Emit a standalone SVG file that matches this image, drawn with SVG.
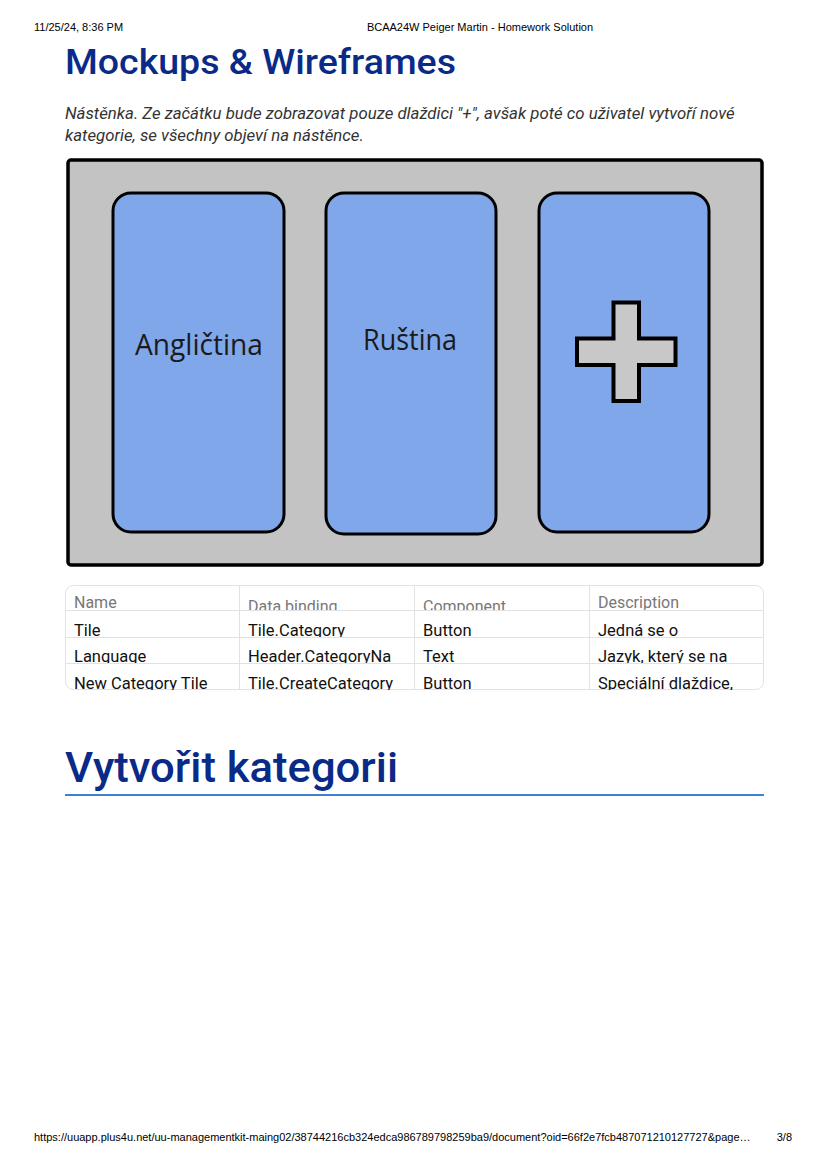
<svg xmlns="http://www.w3.org/2000/svg" width="826" height="1169" viewBox="0 0 826 1169">
<style>
.hdr{font-family:"Liberation Sans",Arial,sans-serif;font-size:11px;fill:#000}
.h1{font-family:Roboto,"Liberation Sans",sans-serif;font-weight:500;fill:#0a2a88}
.para{font-family:Roboto,"Liberation Sans",sans-serif;font-style:italic;font-size:16.8px;fill:#333}
.tile{fill:#80a7e9;stroke:#000;stroke-width:3}
.tl{font-family:"Open Sans","Noto Sans",sans-serif;font-size:29px;fill:#1a1a1a}
.th{font-family:Roboto,"Liberation Sans",sans-serif;font-size:16px;fill:#777}
.td{font-family:Roboto,"Liberation Sans",sans-serif;font-size:16.5px;fill:#111}
.grid{stroke:#e2e2e2;stroke-width:1;fill:none}
</style>
<defs>
<clipPath id="r0c0"><rect x="65" y="585" width="166" height="25"/></clipPath>
<clipPath id="r0c1"><rect x="240" y="585" width="166" height="25"/></clipPath>
<clipPath id="r0c2"><rect x="415" y="585" width="166" height="25"/></clipPath>
<clipPath id="r0c3"><rect x="590" y="585" width="166" height="25"/></clipPath>
<clipPath id="r1c0"><rect x="65" y="611" width="166" height="26"/></clipPath>
<clipPath id="r1c1"><rect x="240" y="611" width="166" height="26"/></clipPath>
<clipPath id="r1c2"><rect x="415" y="611" width="166" height="26"/></clipPath>
<clipPath id="r1c3"><rect x="590" y="611" width="166" height="26"/></clipPath>
<clipPath id="r2c0"><rect x="65" y="638" width="166" height="25"/></clipPath>
<clipPath id="r2c1"><rect x="240" y="638" width="166" height="25"/></clipPath>
<clipPath id="r2c2"><rect x="415" y="638" width="166" height="25"/></clipPath>
<clipPath id="r2c3"><rect x="590" y="638" width="166" height="25"/></clipPath>
<clipPath id="r3c0"><rect x="65" y="664" width="166" height="26"/></clipPath>
<clipPath id="r3c1"><rect x="240" y="664" width="166" height="26"/></clipPath>
<clipPath id="r3c2"><rect x="415" y="664" width="166" height="26"/></clipPath>
<clipPath id="r3c3"><rect x="590" y="664" width="166" height="26"/></clipPath>
</defs>
<rect width="826" height="1169" fill="#fff"/>
<g id="page-header">
<text class="hdr" x="34" y="31">11/25/24, 8:36 PM</text>
<text class="hdr" x="480" y="31" text-anchor="middle">BCAA24W Peiger Martin - Homework Solution</text>
</g>
<g id="title">
<text class="h1" x="65" y="74" font-size="35" textLength="391" lengthAdjust="spacingAndGlyphs">Mockups &amp; Wireframes</text>
</g>
<g id="description">
<text class="para" x="65" y="119">Nástěnka. Ze začátku bude zobrazovat pouze dlaždici "+", avšak poté co uživatel vytvoří nové</text>
<text class="para" x="65" y="141">kategorie, se všechny objeví na nástěnce.</text>
</g>
<g id="board">
<rect x="68" y="160" width="694" height="405" rx="3" fill="#c3c3c3" stroke="#000" stroke-width="3.5"/>
</g>
<g id="tile-anglictina">
<rect class="tile" x="113" y="193" width="171" height="339" rx="18"/>
<text class="tl" x="135" y="355" textLength="128" lengthAdjust="spacingAndGlyphs">Angličtina</text>
</g>
<g id="tile-rustina">
<rect class="tile" x="326" y="193" width="170" height="341" rx="18"/>
<text class="tl" x="363" y="350" textLength="94" lengthAdjust="spacingAndGlyphs">Ruština</text>
</g>
<g id="tile-plus">
<rect class="tile" x="539" y="193" width="170" height="339" rx="18"/>
<path d="M613.5,302.5 H639 V338.5 H675.5 V365 H639 V401 H613.5 V365 H577 V338.5 H613.5 Z" fill="#c8c8c8" stroke="#000" stroke-width="4"/>
</g>
<g id="table">
<rect class="grid" x="65.5" y="585.5" width="698" height="104" rx="8"/>
<line class="grid" x1="239.5" y1="586" x2="239.5" y2="690"/>
<line class="grid" x1="414.5" y1="586" x2="414.5" y2="690"/>
<line class="grid" x1="589.5" y1="586" x2="589.5" y2="690"/>
<line class="grid" x1="66" y1="610.5" x2="764" y2="610.5"/>
<line class="grid" x1="66" y1="637.5" x2="764" y2="637.5"/>
<line class="grid" x1="66" y1="663.5" x2="764" y2="663.5"/>
<text class="th" x="74" y="608" clip-path="url(#r0c0)">Name</text>
<text class="th" x="248" y="612" clip-path="url(#r0c1)">Data binding</text>
<text class="th" x="423" y="612" clip-path="url(#r0c2)">Component</text>
<text class="th" x="598" y="608" clip-path="url(#r0c3)">Description</text>
<text class="td" x="74" y="636" clip-path="url(#r1c0)">Tile</text>
<text class="td" x="248" y="636" clip-path="url(#r1c1)">Tile.Category</text>
<text class="td" x="423" y="636" clip-path="url(#r1c2)">Button</text>
<text class="td" x="598" y="636" clip-path="url(#r1c3)">Jedná se o</text>
<text class="td" x="74" y="662" clip-path="url(#r2c0)">Language</text>
<text class="td" x="248" y="662" clip-path="url(#r2c1)">Header.CategoryNa</text>
<text class="td" x="423" y="662" clip-path="url(#r2c2)">Text</text>
<text class="td" x="598" y="662" clip-path="url(#r2c3)">Jazyk, který se na</text>
<text class="td" x="74" y="689" clip-path="url(#r3c0)">New Category Tile</text>
<text class="td" x="248" y="689" clip-path="url(#r3c1)">Tile.CreateCategory</text>
<text class="td" x="423" y="689" clip-path="url(#r3c2)">Button</text>
<text class="td" x="598" y="689" clip-path="url(#r3c3)">Speciální dlaždice,</text>
</g>
<g id="section">
<text class="h1" x="65" y="782" font-size="42" textLength="333" lengthAdjust="spacingAndGlyphs">Vytvořit kategorii</text>
<rect x="65" y="794" width="699" height="2" fill="#3b7fd6"/>
</g>
<g id="page-footer">
<text class="hdr" x="34" y="1141">https://uuapp.plus4u.net/uu-managementkit-maing02/38744216cb324edca986789798259ba9/document?oid=66f2e7fcb487071210127727&amp;page…</text>
<text class="hdr" x="792" y="1141" text-anchor="end">3/8</text>
</g>
</svg>
